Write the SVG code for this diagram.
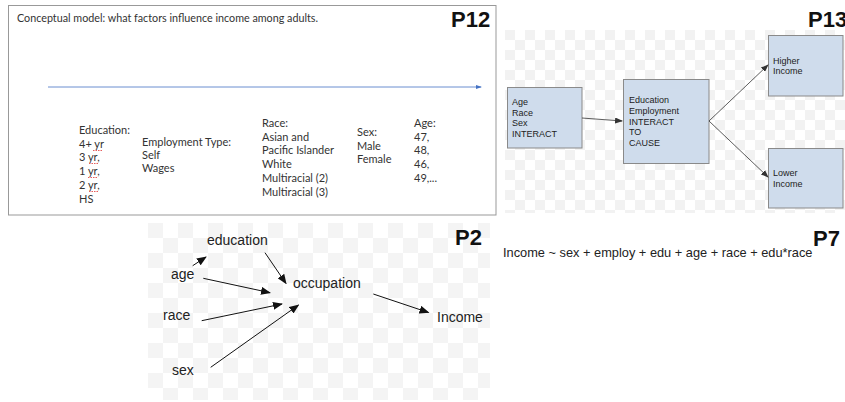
<svg xmlns="http://www.w3.org/2000/svg" width="845" height="402" viewBox="0 0 845 402">
<defs>
<style>
.cal{font-family:Lato,"Liberation Sans",sans-serif;font-size:11px;fill:#333}
.ar{font-family:"Liberation Sans",Arial,sans-serif;fill:#222}
.lbl{font-family:"Liberation Sans",Arial,sans-serif;font-weight:bold;font-size:22px;fill:#111}
.box{fill:#cfdcec;stroke:#8a8a8a;stroke-width:1}
.t9{font-size:9px}
.t14{font-size:14px}
.con{stroke:#333;stroke-width:0.8;fill:none}
.con2{stroke:#111;stroke-width:1;fill:none}
.sq{stroke:#d33;stroke-width:0.8;fill:none;stroke-dasharray:1.5 1}
</style>
<pattern id="chk13" patternUnits="userSpaceOnUse" x="505" y="30" width="20" height="20">
<rect width="20" height="20" fill="#ffffff"/>
<rect width="10" height="10" fill="#f2f2f2"/>
<rect x="10" y="10" width="10" height="10" fill="#f2f2f2"/>
</pattern>
<pattern id="chk2" patternUnits="userSpaceOnUse" x="148" y="223" width="30" height="30">
<rect width="30" height="30" fill="#ffffff"/>
<rect width="15" height="15" fill="#f4f4f4"/>
<rect x="15" y="15" width="15" height="15" fill="#f4f4f4"/>
</pattern>
<marker id="ah" markerWidth="8" markerHeight="6" refX="7" refY="3" orient="auto" markerUnits="userSpaceOnUse">
<path d="M0,0 L8,3 L0,6 z" fill="#333"/>
</marker>
<marker id="ah2" markerWidth="10" markerHeight="8" refX="9" refY="4" orient="auto" markerUnits="userSpaceOnUse">
<path d="M0,0 L10,4 L0,8 z" fill="#111"/>
</marker>
<marker id="ahb" markerWidth="6" markerHeight="4" refX="5" refY="2" orient="auto" markerUnits="userSpaceOnUse">
<path d="M0,0 L6,2 L0,4 z" fill="#4472c4"/>
</marker>
</defs>
<rect width="845" height="402" fill="#ffffff"/>

<!-- P12 panel -->
<g id="p12">
<rect x="8.5" y="5.5" width="487.5" height="209.5" fill="#fff" stroke="#999" stroke-width="1"/>
<text class="cal" x="17" y="22" font-size="12" textLength="301" lengthAdjust="spacingAndGlyphs">Conceptual model: what factors influence income among adults.</text>
<text class="lbl" x="451" y="27">P12</text>
</g>
<g id="p12-education">
<text class="cal" x="79" y="134">Education:</text>
<text class="cal" x="79" y="148">4+ yr</text>
<text class="cal" x="79" y="161">3 yr,</text>
<text class="cal" x="79" y="175">1 yr,</text>
<text class="cal" x="79" y="189">2 yr,</text>
<text class="cal" x="79" y="203">HS</text>
<path class="sq" d="M93,150.5 h10 M89,163.5 h9 M88,177.5 h9 M89,191.5 h9"/>
</g>
<g id="p12-employment">
<text class="cal" x="142" y="146">Employment Type:</text>
<text class="cal" x="142" y="159">Self</text>
<text class="cal" x="142" y="172">Wages</text>
</g>
<g id="p12-race">
<text class="cal" x="262" y="127">Race:</text>
<text class="cal" x="262" y="141">Asian and</text>
<text class="cal" x="262" y="154">Pacific Islander</text>
<text class="cal" x="262" y="168">White</text>
<text class="cal" x="262" y="182">Multiracial (2)</text>
<text class="cal" x="262" y="196">Multiracial (3)</text>
</g>
<g id="p12-sex">
<text class="cal" x="357" y="136">Sex:</text>
<text class="cal" x="357" y="150">Male</text>
<text class="cal" x="357" y="163">Female</text>
</g>
<g id="p12-age">
<text class="cal" x="414" y="127">Age:</text>
<text class="cal" x="414" y="141">47,</text>
<text class="cal" x="414" y="154">48,</text>
<text class="cal" x="414" y="168">46,</text>
<text class="cal" x="414" y="182">49,...</text>
</g>

<!-- P13 panel -->
<rect x="505" y="30" width="340" height="183" fill="url(#chk13)"/>
<text class="lbl" x="808" y="27">P13</text>
<g id="p13-demo">
<rect class="box" x="507.5" y="87.5" width="74.5" height="60.5"/>
<text class="ar t9" x="512" y="105">Age</text>
<text class="ar t9" x="512" y="116">Race</text>
<text class="ar t9" x="512" y="126">Sex</text>
<text class="ar t9" x="512" y="137">INTERACT</text>
</g>
<g id="p13-edu">
<rect class="box" x="623.5" y="79.5" width="85.5" height="84"/>
<text class="ar t9" x="629" y="103">Education</text>
<text class="ar t9" x="629" y="114">Employment</text>
<text class="ar t9" x="629" y="125">INTERACT</text>
<text class="ar t9" x="629" y="135">TO</text>
<text class="ar t9" x="629" y="146">CAUSE</text>
</g>
<g id="p13-higher">
<rect class="box" x="768.5" y="35.5" width="74.5" height="60.5"/>
<text class="ar t9" x="773" y="64">Higher</text>
<text class="ar t9" x="773" y="74">Income</text>
</g>
<g id="p13-lower">
<rect class="box" x="768.5" y="148.5" width="74.5" height="59.5"/>
<text class="ar t9" x="773" y="176">Lower</text>
<text class="ar t9" x="773" y="187">Income</text>
</g>

<!-- P2 panel -->
<rect x="148" y="223" width="342" height="177" fill="url(#chk2)"/>
<text class="lbl" x="455" y="245">P2</text>
<g id="p2-education"><text class="ar t14" x="207" y="245">education</text></g>
<g id="p2-age"><text class="ar t14" x="171" y="279">age</text></g>
<g id="p2-race"><text class="ar t14" x="163" y="320">race</text></g>
<g id="p2-sex"><text class="ar t14" x="172" y="375">sex</text></g>
<g id="p2-occupation"><text class="ar t14" x="293" y="288">occupation</text></g>
<g id="p2-income"><text class="ar t14" x="437" y="322">Income</text></g>

<!-- P7 -->
<g id="p7">
<text class="lbl" x="813" y="246">P7</text>
<text class="ar" x="503" y="257" font-size="12.8">Income ~ sex + employ + edu + age + race + edu*race</text>
</g>

<!-- connectors -->
<g id="connectors">
<line x1="48" y1="87" x2="481" y2="87" stroke="#4472c4" stroke-width="0.8" marker-end="url(#ahb)"/>
<line class="con" x1="582" y1="118" x2="622" y2="121" marker-end="url(#ah)"/>
<line class="con" x1="709" y1="121" x2="768" y2="65" marker-end="url(#ah)"/>
<line class="con" x1="709" y1="121" x2="768" y2="177" marker-end="url(#ah)"/>
<line class="con2" x1="192.7" y1="265.7" x2="206" y2="257" marker-end="url(#ah2)"/>
<line class="con2" x1="265" y1="252.7" x2="286" y2="283.5" marker-end="url(#ah2)"/>
<line class="con2" x1="203.3" y1="278.3" x2="270" y2="292.7" marker-end="url(#ah2)"/>
<line class="con2" x1="201.7" y1="320.7" x2="282" y2="304" marker-end="url(#ah2)"/>
<line class="con2" x1="210.7" y1="367.3" x2="298.5" y2="305" marker-end="url(#ah2)"/>
<line class="con2" x1="373.3" y1="294" x2="428.5" y2="312.5" marker-end="url(#ah2)"/>
</g>
</svg>
